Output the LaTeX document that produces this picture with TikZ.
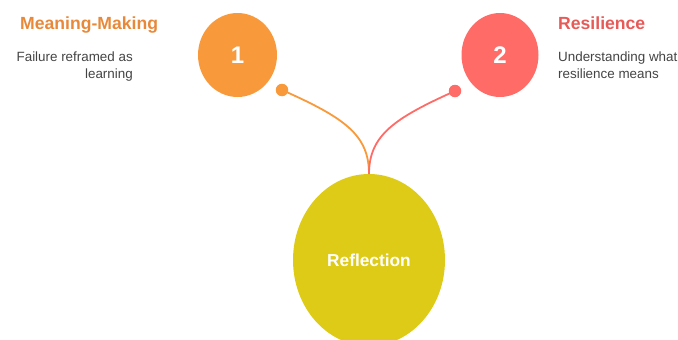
\documentclass[tikz,border=0pt]{standalone}
\usepackage{fontspec}
\setmainfont{Liberation Sans}
\usetikzlibrary{shapes.geometric}
\definecolor{orangeC}{HTML}{F89A3C}
\definecolor{redC}{HTML}{FF6B67}
\definecolor{yellowC}{HTML}{DECB17}
\definecolor{orangeT}{HTML}{E8893A}
\definecolor{redT}{HTML}{E65A58}
\definecolor{grayT}{HTML}{444444}
\begin{document}
\begin{tikzpicture}[x=1pt,y=-1pt,
  bub/.style={ellipse, draw=none, inner sep=0pt},
  numtxt/.style={text=white, font=\bfseries\fontsize{24}{26}\selectfont},
  ttl/.style={font=\bfseries\fontsize{17.6}{20}\selectfont, inner sep=0pt},
  desc/.style={text=grayT, font=\fontsize{13.4}{16.5}\selectfont, inner sep=0pt},
  dot/.style={circle, inner sep=0pt, minimum size=12.5pt},
  link/.style={line width=1.8pt}]
\useasboundingbox (0,0) rectangle (678,340);
\clip (0,0) rectangle (678,340);
% bubbles
\node[bub, fill=orangeC, minimum width=79pt, minimum height=84pt, numtxt] (one) at (237.5,55) {1};
\node[bub, fill=redC, minimum width=77pt, minimum height=84pt, numtxt] (two) at (500,55) {2};
\node[bub, fill=yellowC, minimum width=152pt, minimum height=172pt, text=white, font=\bfseries\fontsize{17.3}{19}\selectfont] (refl) at (369,260) {Reflection};
% dots
\node[dot, fill=orangeC] (d1) at (282,90) {};
\node[dot, fill=redC] (d2) at (455,91) {};
\coordinate (top) at (369,174);
% links
\draw[link, orangeC] (d1.center) .. controls (345,118) and (369,135) .. (top);
\draw[link, redC] (d2.center) .. controls (395,118) and (369,135) .. (top);
% texts
\node[ttl, text=orangeT, anchor=base west] (t1) at (20,29) {Meaning-Making};
\node[desc, anchor=base east, align=right] (s1) at (133,78) {Failure reframed as\\learning};
\node[ttl, text=redT, anchor=base west] (t2) at (558,29) {Resilience};
\node[desc, anchor=base west, align=left] (s2) at (558,78) {Understanding what\\resilience means};
\end{tikzpicture}
\end{document}
